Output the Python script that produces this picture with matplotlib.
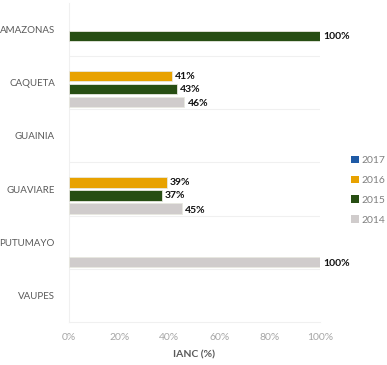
import numpy as np
import matplotlib
matplotlib.use("Agg")
import matplotlib.pyplot as plt
from matplotlib.patches import Patch

categories = ["AMAZONAS", "CAQUETA", "GUAINIA", "GUAVIARE", "PUTUMAYO", "VAUPES"]
years = ["2017", "2016", "2015", "2014"]
v2017 = [np.nan, np.nan, np.nan, np.nan, np.nan, np.nan]
v2016 = [np.nan, 41, np.nan, 39, np.nan, np.nan]
v2015 = [100, 43, np.nan, 37, np.nan, np.nan]
v2014 = [np.nan, 46, np.nan, 45, 100, np.nan]
series = [v2017, v2016, v2015, v2014]
colors = ["#1F5AA6", "#E8A200", "#274E13", "#D0CCCC"]
xticks = [0, 20, 40, 60, 80, 100]

plt.rcParams['font.family'] = ['Lato', 'DejaVu Sans']
fig = plt.figure(figsize=(3.87, 3.65), dpi=100)
ax = fig.add_axes([0.178, 0.118, 0.649, 0.874])

slot = 0.245
bh = 0.19
y = np.arange(len(categories))
for i, (vals, c) in enumerate(zip(series, colors)):
    off = (i - 1.5) * slot
    vals = np.array(vals, dtype=float)
    ax.barh(y + off, vals, height=bh, color=c, edgecolor="#E8E8E0", linewidth=0.6, zorder=3)
    for yy, v in zip(y + off, vals):
        if not np.isnan(v):
            ax.text(v + 1.2, yy + (0.03 if i == 3 else 0), f"{int(v)}%", va="center", ha="left",
                    fontsize=7.5, fontweight="bold", color="#111111")

ax.set_ylim(len(categories) - 0.5, -0.5)
ax.set_xlim(0, 100)
ax.set_yticks(y)
ax.set_yticklabels(categories, fontsize=7, color="#595959")
ax.set_xticks(xticks)
ax.set_xticklabels([f"{t}%" for t in xticks], fontsize=7.5, color="#A6A6A6")
ax.tick_params(axis="both", length=0)
ax.tick_params(axis="y", pad=10)
ax.tick_params(axis="x", pad=8)
for b in np.arange(0.5, len(categories) - 0.5, 1):
    ax.axhline(b, color="#F0F0F0", linewidth=0.8, zorder=1)
for s in ["top", "right"]:
    ax.spines[s].set_visible(False)
ax.spines["left"].set_color("#F0F0F0")
ax.spines["bottom"].set_color("#F0F0F0")
ax.set_xlabel("IANC (%)", fontsize=7.5, fontweight="bold", color="#595959", labelpad=6)

handles = [Patch(facecolor=c, edgecolor="none") for c in colors]
fig.legend(handles, years, loc="center left", bbox_to_anchor=(0.907, 0.479), frameon=False,
           fontsize=7.5, labelcolor="#808080", handlelength=0.75, handleheight=0.75,
           handletextpad=0.3, labelspacing=1.0, borderpad=0, borderaxespad=0)

fig.savefig("out.png", dpi=100)
